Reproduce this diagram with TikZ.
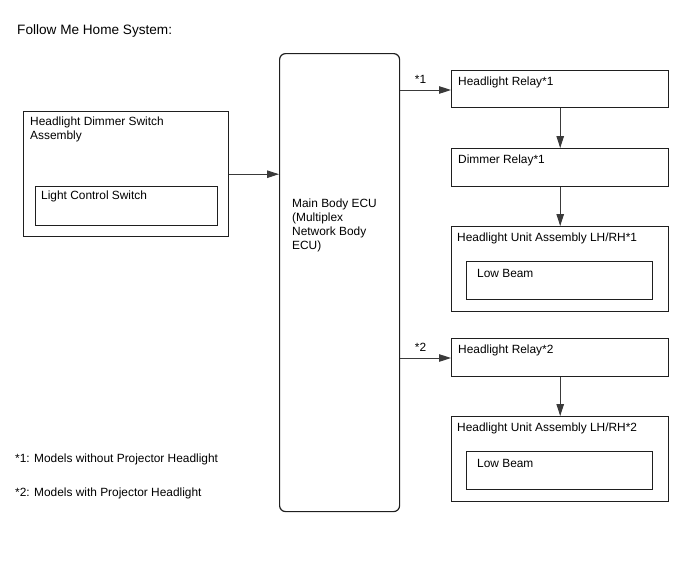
\documentclass[tikz,border=0pt]{standalone}
\usepackage{fontspec}
\setmainfont{Liberation Sans}
\usetikzlibrary{positioning,arrows.meta,calc}
\definecolor{fmLine}{HTML}{1F1F1F}
\definecolor{fmWire}{HTML}{3A3A3A}
\tikzset{
  fm-box/.style={
    draw=fmLine, line width=1.4pt, anchor=north west,
    inner sep=0pt, minimum width=217pt, minimum height=38pt
  },
  fm-ecu/.style={fm-box, rounded corners=6pt, line width=1.2pt,
    minimum width=120pt, minimum height=458pt},
  fm-text/.style={font=\fontsize{11.9}{14}\selectfont, anchor=north west,
    inner sep=0pt, align=left},
  fm-flow/.style={-{Triangle[length=12pt,width=7.5pt]}, line width=1pt,
    draw=fmWire}
}
\begin{document}
\begin{tikzpicture}[x=1pt,y=-1pt]
\useasboundingbox (0,0) rectangle (688,560);
\node[fm-text, font=\fontsize{13.6}{16}\selectfont] (title) at (17,24)
  {Follow Me Home System:};

% left side: switch
\node[fm-box, minimum width=205pt, minimum height=125pt] (sw) at (23,111) {};
\node[fm-text] (swt) at ($(sw.north west)+(7,6)$)
  {Headlight Dimmer Switch\\Assembly};
\node[fm-box, minimum width=182pt, minimum height=39pt] (lcs) at (35,186) {};
\node[fm-text] at ($(lcs.north west)+(6,5)$) {Light Control Switch};

% ECU
\node[fm-ecu] (ecu) at (279,53) {};
\node[fm-text] at (292,199)
  {Main Body ECU\\(Multiplex\\Network Body\\ECU)};

% *1 branch
\node[fm-box, minimum height=37pt] (rly1) at (451,70) {};
\node[fm-text] at ($(rly1.north west)+(7,7)$) {Headlight Relay*1};
\node[fm-box, minimum height=38pt] (dim) at (451,148) {};
\node[fm-text] at ($(dim.north west)+(7,7)$) {Dimmer Relay*1};
\node[fm-box, minimum height=85pt] (unit1) at (451,226) {};
\node[fm-text] at ($(unit1.north west)+(6,7)$) {Headlight Unit Assembly LH/RH*1};
\node[fm-box, minimum width=186pt, minimum height=38pt] (low1) at (466,261) {};
\node[fm-text] at ($(low1.north west)+(11,8)$) {Low Beam};

% *2 branch
\node[fm-box, minimum height=38pt] (rly2) at (451,338) {};
\node[fm-text] at ($(rly2.north west)+(7,7)$) {Headlight Relay*2};
\node[fm-box, minimum height=85pt] (unit2) at (451,416) {};
\node[fm-text] at ($(unit2.north west)+(6,7)$) {Headlight Unit Assembly LH/RH*2};
\node[fm-box, minimum width=186pt, minimum height=38pt] (low2) at (466,451) {};
\node[fm-text] at ($(low2.north west)+(11,8)$) {Low Beam};

% notes
\node[fm-text] (n1) at (15,454) {*1: Models without Projector Headlight};
\node[fm-text] (n2) at (15,488) {*2: Models with Projector Headlight};

\draw[fm-flow] (sw.east) -- (sw.east -| ecu.west);
\draw[fm-flow] (ecu.east |- 0,90) -- node[fm-text, anchor=south, pos=0.4,
  yshift=6pt] {*1} (rly1.west |- 0,90);
\draw[fm-flow] (ecu.east |- 0,358) -- node[fm-text, anchor=south, pos=0.4,
  yshift=6pt] {*2} (rly2.west |- 0,358);
\draw[fm-flow] (rly1) -- (dim);
\draw[fm-flow] (dim) -- (unit1);
\draw[fm-flow] (rly2) -- (unit2);
\end{tikzpicture}
\end{document}
